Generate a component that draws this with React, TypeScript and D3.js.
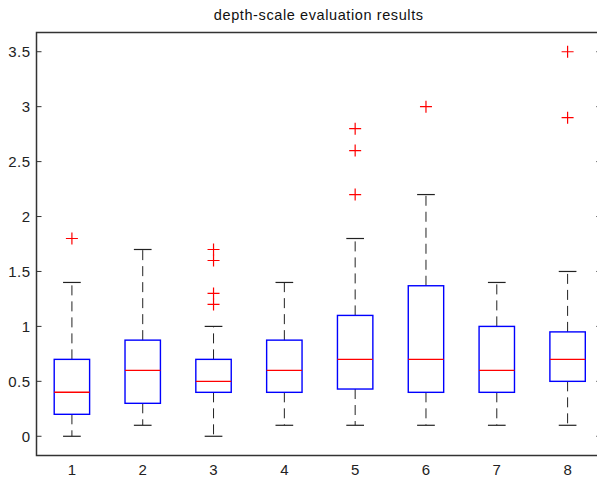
import React, { useEffect, useRef } from 'react';
import * as d3 from 'd3';

// box statistics
const groups = [1, 2, 3, 4, 5, 6, 7, 8];
const lowWhisker = [0, 0.1, 0, 0.1, 0.1, 0.1, 0.1, 0.1];
const q1 = [0.2, 0.3, 0.4, 0.4, 0.43, 0.4, 0.4, 0.5];
const medians = [0.4, 0.6, 0.5, 0.6, 0.7, 0.7, 0.6, 0.7];
const q3 = [0.7, 0.875, 0.7, 0.875, 1.1, 1.37, 1.0, 0.95];
const highWhisker = [1.4, 1.7, 1.0, 1.4, 1.8, 2.2, 1.4, 1.5];
const outliers = [[1.8], [], [1.2, 1.3, 1.6, 1.7], [], [2.2, 2.6, 2.8], [3.0], [], [2.9, 3.5]];
const yTicks = [0, 0.5, 1, 1.5, 2, 2.5, 3, 3.5];

const App = () => {
  const ref = useRef<SVGSVGElement>(null);

  useEffect(() => {
    const svg = d3.select(ref.current);
    svg.selectAll('*').remove();

    // right edge of the axes sits just past the picture, like the original crop
    const left = 36.5, right = 603, top = 32.5, bottom = 455.5;
    const x = d3.scaleLinear().domain([0.5, 8.5]).range([left, right]);
    const y = d3.scaleLinear().domain([-0.175, 3.675]).range([bottom, top]);
    const font = 'Liberation Sans, Arial, sans-serif';
    const axisColor = '#333';

    svg.append('rect').attr('width', 597).attr('height', 480).attr('fill', '#fff');

    // title
    svg.append('text')
      .attr('x', (left + right) / 2 - 1).attr('y', 20)
      .attr('text-anchor', 'middle')
      .attr('font-family', font).attr('font-size', 14.5)
      .attr('letter-spacing', 0.6)
      .attr('fill', '#111')
      .text('depth-scale evaluation results');

    // y ticks, both sides, pointing in
    yTicks.forEach(t => {
      svg.append('line').attr('x1', left).attr('x2', left + 5)
        .attr('y1', y(t)).attr('y2', y(t)).attr('stroke', axisColor);
      svg.append('line').attr('x1', right - 7).attr('x2', right)
        .attr('y1', y(t)).attr('y2', y(t)).attr('stroke', '#777');
      svg.append('text')
        .attr('x', left - 6).attr('y', y(t) + 5.5)
        .attr('text-anchor', 'end')
        .attr('font-family', font).attr('font-size', 15)
        .attr('letter-spacing', 0.5)
        .attr('fill', '#222')
        .text(String(t));
    });

    // x labels
    groups.forEach(g => {
      svg.append('text')
        .attr('x', x(g)).attr('y', 475)
        .attr('text-anchor', 'middle')
        .attr('font-family', font).attr('font-size', 15)
        .attr('fill', '#222')
        .text(String(g));
    });

    const boxHalf = 0.25, capHalf = 0.125;

    groups.forEach((g, i) => {
      const gr = svg.append('g');
      // whiskers
      gr.append('line').attr('x1', x(g)).attr('x2', x(g))
        .attr('y1', y(q3[i])).attr('y2', y(highWhisker[i]))
        .attr('stroke', '#222').attr('stroke-dasharray', '10,6');
      gr.append('line').attr('x1', x(g)).attr('x2', x(g))
        .attr('y1', y(q1[i])).attr('y2', y(lowWhisker[i]))
        .attr('stroke', '#222').attr('stroke-dasharray', '10,6');
      [lowWhisker[i], highWhisker[i]].forEach(v => {
        gr.append('line').attr('x1', x(g - capHalf)).attr('x2', x(g + capHalf))
          .attr('y1', y(v)).attr('y2', y(v))
          .attr('stroke', '#222').attr('stroke-width', 1.2);
      });
      // box
      gr.append('rect')
        .attr('x', x(g - boxHalf)).attr('y', y(q3[i]))
        .attr('width', x(g + boxHalf) - x(g - boxHalf))
        .attr('height', y(q1[i]) - y(q3[i]))
        .attr('fill', 'none').attr('stroke', '#0000ff').attr('stroke-width', 1.4);
      // median
      gr.append('line').attr('x1', x(g - boxHalf)).attr('x2', x(g + boxHalf))
        .attr('y1', y(medians[i])).attr('y2', y(medians[i]))
        .attr('stroke', '#ff0000').attr('stroke-width', 1.4);
      // outliers
      outliers[i].forEach(v => {
        gr.append('path')
          .attr('d', `M${x(g) - 6},${y(v)}H${x(g) + 6}M${x(g)},${y(v) - 6}V${y(v) + 6}`)
          .attr('stroke', '#ff0000').attr('stroke-width', 1.2).attr('fill', 'none');
      });
    });

    // axes frame
    svg.append('rect')
      .attr('x', left).attr('y', top)
      .attr('width', right - left).attr('height', bottom - top)
      .attr('fill', 'none').attr('stroke', axisColor).attr('stroke-width', 1.5);
  }, []);

  return (
    <svg ref={ref} width={597} height={480}
      style={{ position: 'absolute', left: 0, top: 0, display: 'block' }} />
  );
};

export default App;
